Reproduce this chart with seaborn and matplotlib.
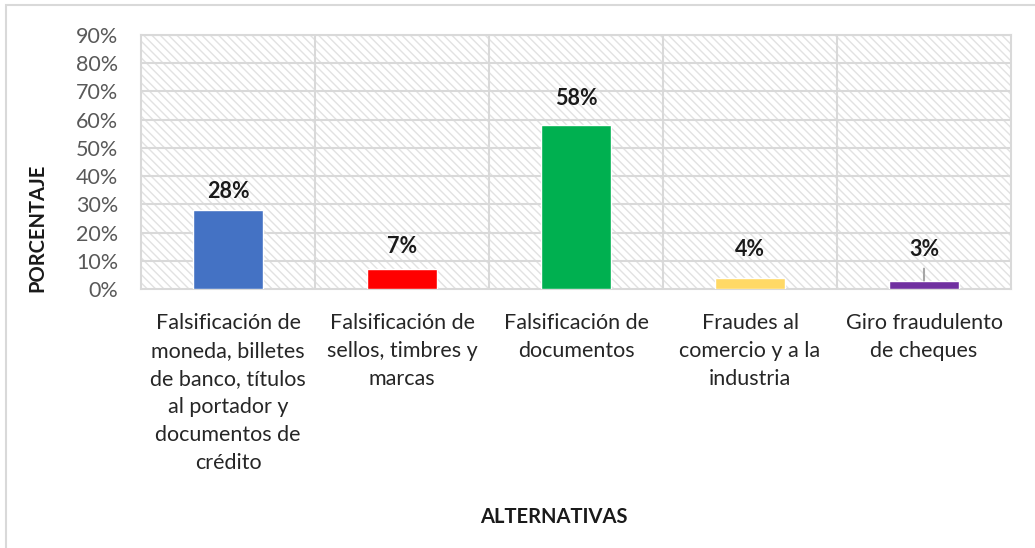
import numpy as np
import pandas as pd
import seaborn as sns
import matplotlib.pyplot as plt
from matplotlib.patches import Rectangle
from matplotlib.ticker import FixedLocator, PercentFormatter

categories = [
    "Falsificación de\nmoneda, billetes\nde banco, títulos\nal portador y\ndocumentos de\ncrédito",
    "Falsificación de\nsellos, timbres y\nmarcas",
    "Falsificación de\ndocumentos",
    "Fraudes al\ncomercio y a la\nindustria",
    "Giro fraudulento\nde cheques",
]
values = [0.28, 0.07, 0.58, 0.04, 0.03]
labels = ["28%", "7%", "58%", "4%", "3%"]
colors = ["#4472C4", "#FF0000", "#00B050", "#FFD966", "#7030A0"]

sns.set_style("white")
plt.rcParams["font.family"] = ["Lato", "DejaVu Sans"]
plt.rcParams["hatch.linewidth"] = 1.0

df = pd.DataFrame({"cat": categories, "val": values})

fig = plt.figure(figsize=(10.35, 5.48), dpi=100)
ax = fig.add_axes([141 / 1035, 1 - 289 / 548, 870 / 1035, 254 / 548])

# hatched plot background
ax.add_patch(Rectangle((0, 0), 1, 1, transform=ax.transAxes, facecolor="white",
                       edgecolor="#e2e2e2", hatch="\\\\\\\\", lw=0, zorder=0))

sns.barplot(data=df, x="cat", y="val", hue="cat", palette=colors,
            width=0.4, legend=False, ax=ax, saturation=1, zorder=3)

ax.set_ylim(0, 0.9)
ax.set_xlim(-0.5, len(categories) - 0.5)
ax.yaxis.set_major_locator(FixedLocator(np.arange(0, 0.91, 0.1)))
ax.yaxis.set_major_formatter(PercentFormatter(1.0, decimals=0))

# gridlines: horizontal at ticks, vertical at category boundaries
for y in np.arange(0.1, 0.91, 0.1):
    ax.axhline(y, color="#d9d9d9", lw=1.5, zorder=1)
for x in np.arange(0.5, len(categories) - 0.5, 1):
    ax.axvline(x, color="#d9d9d9", lw=1.5, zorder=1)
for s in ax.spines.values():
    s.set_color("#d9d9d9")
    s.set_linewidth(1.5)

ax.tick_params(axis="y", length=0, labelsize=15.5, labelcolor="#595959", pad=16.5)
ax.tick_params(axis="x", length=0, labelsize=15.5, labelcolor="#262626", pad=17)
for t in ax.get_xticklabels():
    t.set_horizontalalignment("center")
    t.set_linespacing(1.51)

# data labels (Excel places them slightly differently above each bar)
label_offsets = [13, 16.5, 19, 20, 22.5]  # points above bar top
for i, (v, lab) in enumerate(zip(values, labels)):
    if i == 4:
        ax.annotate(lab, xy=(i, v), xytext=(0, label_offsets[i]), textcoords="offset points",
                    ha="center", va="center",
                    fontsize=15.5, fontweight="bold", color="#1a1a1a",
                    arrowprops=dict(arrowstyle="-", color="#a6a6a6", lw=1.5,
                                    shrinkA=4, shrinkB=0))
    else:
        ax.annotate(lab, xy=(i, v), xytext=(0, label_offsets[i]), textcoords="offset points",
                    ha="center", va="center",
                    fontsize=15.5, fontweight="bold", color="#1a1a1a")

ax.set_xlabel("ALTERNATIVAS", fontsize=14.5, fontweight="bold", color="#1a1a1a")
ax.xaxis.label.set_va("center")
ax.xaxis.set_label_coords(0.475, -0.898)
ax.set_ylabel("PORCENTAJE", fontsize=14.5, fontweight="bold", color="#1a1a1a")
ax.yaxis.label.set_va("center")
ax.yaxis.set_label_coords(-0.1195, 0.24)

# outer chart border
fig.add_artist(Rectangle((6 / 1035, -0.05), 1.1, 1 - 5 / 548 + 0.05,
                         transform=fig.transFigure, fill=False,
                         edgecolor="#d9d9d9", lw=1.5))

fig.savefig("out.png", dpi=100)
